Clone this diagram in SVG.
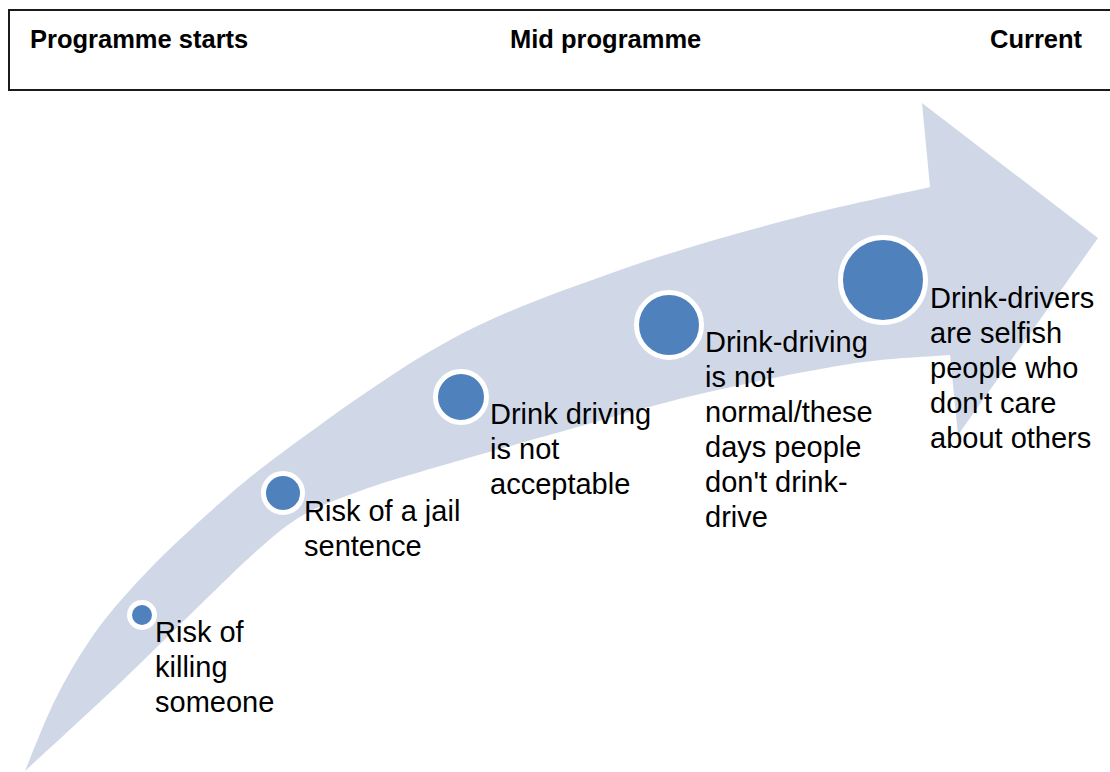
<svg xmlns="http://www.w3.org/2000/svg" width="1110" height="772" viewBox="0 0 1110 772">
  <style>
    .hdr { font-family: "Liberation Sans", Arial, sans-serif; font-size: 25.5px; font-weight: bold; fill: #000; }
    .lbl { font-family: "Liberation Sans", Arial, sans-serif; font-size: 29px; fill: #000; }
    .dot { fill: #4F81BD; stroke: #FFFFFF; stroke-width: 5; }
    .band { fill: #D0D8E8; }
  </style>
  <rect width="1110" height="772" fill="#FFFFFF"/>

  <!-- timeline header -->
  <g id="header">
    <rect x="9" y="10" width="1120" height="80" fill="none" stroke="#1a1a1a" stroke-width="2"/>
    <text class="hdr" x="30" y="48">Programme starts</text>
    <text class="hdr" x="510" y="48">Mid programme</text>
    <text class="hdr" x="990" y="48">Current</text>
  </g>

  <!-- curved progress arrow -->
  <g id="connectors">
    <path class="band" d="M 25,771
      C 40.8,756.3 90.8,710.7 120,683
      C 149.2,655.3 176.7,627.5 200,605
      C 223.3,582.5 242.5,563.2 260,548
      C 277.5,532.8 288.3,523.5 305,514
      C 321.7,504.5 340.8,498 360,491
      C 379.2,484 386.7,481.8 420,472
      C 453.3,462.2 513.3,445 560,432
      C 606.7,419 651.7,405.3 700,394
      C 748.3,382.7 808.3,370.5 850,364
      C 891.7,357.5 933.3,356.5 950,355
      L 958,435 L 1098,238 L 922,103 L 930,187
      C 906.2,192.5 838.7,206.2 787,220
      C 735.3,233.8 676.2,250 620,270
      C 563.8,290 506.2,309.7 450,340
      C 393.8,370.3 326.3,420.3 283,452
      C 239.7,483.7 215.5,507 190,530
      C 164.5,553 146.7,571.7 130,590
      C 113.3,608.3 102.5,621.7 90,640
      C 77.5,658.3 65.8,678.2 55,700
      C 44.2,721.8 30,759.2 25,771 Z"/>
  </g>

  <g id="step1">
    <circle class="dot" cx="142" cy="615" r="12.5"/>
    <text class="lbl" x="155" y="642">Risk of</text>
    <text class="lbl" x="155" y="677">killing</text>
    <text class="lbl" x="155" y="712">someone</text>
  </g>

  <g id="step2">
    <circle class="dot" cx="283" cy="493" r="19.5"/>
    <text class="lbl" x="304" y="521">Risk of a jail</text>
    <text class="lbl" x="304" y="556">sentence</text>
  </g>

  <g id="step3">
    <circle class="dot" cx="461" cy="397" r="25.5"/>
    <text class="lbl" x="490" y="424">Drink driving</text>
    <text class="lbl" x="490" y="459">is not</text>
    <text class="lbl" x="490" y="494">acceptable</text>
  </g>

  <g id="step4">
    <circle class="dot" cx="669" cy="325" r="32.5"/>
    <text class="lbl" x="705" y="352">Drink-driving</text>
    <text class="lbl" x="705" y="387">is not</text>
    <text class="lbl" x="705" y="422">normal/these</text>
    <text class="lbl" x="705" y="457">days people</text>
    <text class="lbl" x="705" y="492">don't drink-</text>
    <text class="lbl" x="705" y="527">drive</text>
  </g>

  <g id="step5">
    <circle class="dot" cx="883" cy="280" r="42.5"/>
    <text class="lbl" x="930" y="308">Drink-drivers</text>
    <text class="lbl" x="930" y="343">are selfish</text>
    <text class="lbl" x="930" y="378">people who</text>
    <text class="lbl" x="930" y="413">don't care</text>
    <text class="lbl" x="930" y="448">about others</text>
  </g>
</svg>
